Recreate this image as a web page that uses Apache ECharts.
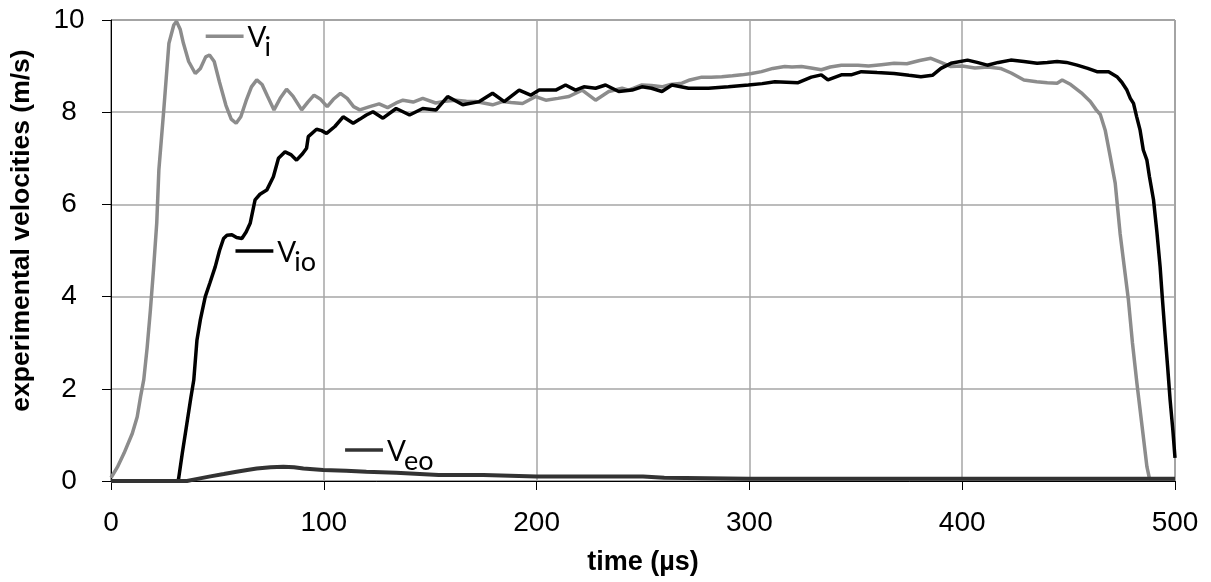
<!DOCTYPE html>
<html>
<head>
<meta charset="utf-8">
<script src="https://cdn.jsdelivr.net/npm/echarts@6/dist/echarts.min.js"></script>
<style>
html,body{margin:0;padding:0;background:#fff;}
#chart{width:1211px;height:582px;}
</style>
</head>
<body>
<div id="chart"></div>
<script>
// ---- data (time in µs, velocity in m/s) ----
var xTicks = [0, 100, 200, 300, 400, 500];
var yTicks = [0, 2, 4, 6, 8, 10];

var tVi = [0,3,6.1,10,12.3,13.9,15.4,17,18.5,20,21.5,22.5,24.8,27.2,29.5,30.8,32.5,34,36.5,39.6,42,44.5,46.3,48.5,51,54,56.5,58.8,61,63.5,66,68.5,71,73.5,76.6,79.5,82.5,85.5,89.6,92.5,95.4,98.5,101.6,104.5,107.8,111,114,116.9,121.6,126,130,134,137.2,142,146.5,152.6,157,162,167,171.3,175,179.3,184,188,193.4,199.6,204.3,210,215.2,221.4,227.7,233.9,240.2,243.3,249.5,254,258.9,263,268.3,272,277.6,282,287,292,296.4,301,305.7,311,316.6,320,324.5,329,333.8,338,343.2,347.8,351,356,362,368,374,380,385.3,390,394.7,400,406,412,418,423,429,435,440,444.6,447,451,456,460.2,463,464.9,467.2,469.6,471.9,474.2,476,478.1,480,482.1,484.5,486.8,488,500];
var vVi = [0.07,0.3,0.6,1.03,1.39,1.83,2.2,2.9,3.7,4.6,5.6,6.75,8.05,9.49,9.89,9.97,9.8,9.5,9.1,8.84,8.95,9.2,9.24,9.1,8.65,8.15,7.85,7.76,7.9,8.25,8.55,8.7,8.6,8.35,8.05,8.3,8.5,8.35,8.05,8.22,8.37,8.28,8.12,8.28,8.41,8.3,8.12,8.05,8.12,8.18,8.1,8.2,8.26,8.22,8.3,8.2,8.24,8.26,8.24,8.23,8.2,8.16,8.23,8.21,8.19,8.34,8.26,8.3,8.34,8.48,8.26,8.45,8.52,8.48,8.59,8.58,8.55,8.6,8.63,8.7,8.76,8.76,8.77,8.79,8.81,8.84,8.88,8.95,8.99,8.98,8.99,8.96,8.92,8.98,9.02,9.02,9.02,9.0,9.03,9.06,9.05,9.12,9.17,9.08,8.99,9.0,8.96,8.98,8.95,8.85,8.7,8.66,8.64,8.63,8.7,8.6,8.42,8.23,8.05,7.95,7.61,7.03,6.46,5.37,4.7,3.93,3.0,2.12,1.2,0.31,0.05,0.05];

var tVio = [0,31.5,31.8,33.5,35.5,37.5,38.9,40.4,42,44.3,46.5,49,51,52.9,54.5,56.8,59,61.5,63.5,65.4,67.7,70,73.2,76.3,78.7,81.8,84.5,87.2,90,91.9,92.7,96.6,99,101.3,105.2,109.1,113.8,117,120,123.1,127.8,134,137.2,140.3,146.5,152.8,158.2,165.3,173.1,179.3,184.8,191.8,197.2,201.2,209,213.6,218.3,222.2,227.7,232.4,238.6,244.9,249.5,254,258.9,263.6,271.4,280.8,290.1,299.5,306,312,322.9,329.1,333.8,336.9,343.2,347.8,352.6,360,368,375,380.6,386,390,394.7,402.5,407,411.8,417,422.8,429,435.2,440,444.6,449,454,459,463.3,468.8,472.7,475,477.4,479,480.5,482,483.6,485.1,486.8,488,489.9,491.5,493,494,495.3,496.5,497.7,499,500];
var vVio = [0,0,0.06,0.6,1.2,1.8,2.19,3.06,3.5,4.0,4.3,4.65,5.0,5.26,5.33,5.34,5.28,5.26,5.4,5.59,6.1,6.22,6.31,6.6,7.0,7.14,7.08,6.96,7.1,7.22,7.47,7.63,7.6,7.54,7.69,7.9,7.76,7.85,7.94,8.01,7.87,8.08,8.01,7.94,8.08,8.05,8.34,8.16,8.23,8.41,8.23,8.48,8.37,8.48,8.48,8.59,8.48,8.55,8.52,8.59,8.45,8.48,8.55,8.52,8.45,8.59,8.52,8.52,8.55,8.59,8.62,8.66,8.64,8.76,8.81,8.7,8.81,8.81,8.88,8.86,8.84,8.8,8.77,8.8,8.95,9.06,9.13,9.08,9.02,9.08,9.13,9.1,9.06,9.08,9.1,9.08,9.02,8.95,8.88,8.88,8.77,8.65,8.48,8.3,8.19,7.9,7.61,7.18,6.96,6.6,6.1,5.4,4.65,4.0,3.2,2.5,1.76,1.1,0.5];

var tVeo = [0,35.7,40,46.7,53,59,64,68.5,75,81,86,90.4,99.7,110.5,120,134,154,175,200,230,250,260,300,400,500];
var vVeo = [0,0,0.04,0.1,0.15,0.2,0.24,0.27,0.3,0.31,0.3,0.27,0.24,0.22,0.2,0.18,0.13,0.13,0.1,0.1,0.1,0.07,0.05,0.05,0.05];

// in-plot series labels (data units)
var labelSub = ['i', 'io', 'eo'];
var labelT0 = [44.5, 58.5, 110];
var labelT1 = [62.3, 76.3, 127.8];
var labelV = [9.65, 4.99, 0.67];

function pairs(t, v) { return t.map(function (x, i) { return [x, v[i]]; }); }

var colors = ['#8c8c8c', '#000000', '#333333'];
var widths = [3.5, 3.5, 4];

var chart = echarts.init(document.getElementById('chart'));
var axisFont = 'Liberation Sans, Arial, sans-serif';
chart.setOption({
  animation: false,
  grid: { left: 107, right: 36, top: 20, bottom: 101, show: true, borderColor: '#404040', borderWidth: 1 },
  xAxis: {
    type: 'value', min: xTicks[0], max: xTicks[xTicks.length - 1], interval: 100,
    name: 'time (µs)', nameLocation: 'middle', nameGap: 68,
    nameTextStyle: { fontFamily: axisFont, fontWeight: 'bold', fontSize: 27, color: '#000' },
    axisLine: { show: true, onZero: false, lineStyle: { color: '#000', width: 1 } },
    axisTick: { show: true, inside: false, length: 9, lineStyle: { color: '#000' } },
    axisLabel: { fontFamily: axisFont, fontSize: 28, color: '#000', margin: 28 },
    splitLine: { show: true, lineStyle: { color: '#a6a6a6', width: 1.5 } }
  },
  yAxis: {
    type: 'value', min: yTicks[0], max: yTicks[yTicks.length - 1], interval: 2,
    name: 'experimental velocities (m/s)', nameLocation: 'middle', nameGap: 76,
    nameTextStyle: { fontFamily: axisFont, fontWeight: 'bold', fontSize: 26.5, color: '#000', padding: [0, 0, 0, 40] },
    axisLine: { show: true, onZero: false, lineStyle: { color: '#000', width: 1 } },
    axisTick: { show: true, inside: false, length: 9, lineStyle: { color: '#000' } },
    axisLabel: { fontFamily: axisFont, fontSize: 28, color: '#000', margin: 42, align: 'center' },
    splitLine: { show: true, lineStyle: { color: '#a6a6a6', width: 1.5 } }
  },
  series: [
    { name: 'Vi', type: 'line', data: pairs(tVi, vVi), showSymbol: false, smooth: false,
      lineStyle: { color: colors[0], width: widths[0] }, z: 2 },
    { name: 'Vio', type: 'line', data: pairs(tVio, vVio), showSymbol: false, smooth: false,
      lineStyle: { color: colors[1], width: widths[1] }, z: 3 },
    { name: 'Veo', type: 'line', data: pairs(tVeo, vVeo), showSymbol: false, smooth: false,
      lineStyle: { color: colors[2], width: widths[2] }, z: 4 }
  ]
});

// series labels placed from data-unit anchors
var g = [];
var labFont = 'Lato, "Open Sans", sans-serif';
for (var i = 0; i < labelSub.length; i++) {
  var p0 = chart.convertToPixel({ gridIndex: 0 }, [labelT0[i], labelV[i]]);
  var p1 = chart.convertToPixel({ gridIndex: 0 }, [labelT1[i], labelV[i]]);
  g.push({ type: 'line', shape: { x1: p0[0], y1: p0[1], x2: p1[0], y2: p1[1] },
           style: { stroke: colors[i], lineWidth: 3.5 }, z: 10 });
  g.push({ type: 'text', x: p1[0] + 4, y: p1[1] + 2,
           style: { text: 'V', font: '28px ' + labFont, fill: '#000', textVerticalAlign: 'middle', textAlign: 'left' }, z: 10 });
  g.push({ type: 'text', x: p1[0] + 21, y: p1[1] + 11,
           style: { text: labelSub[i], font: '27px ' + labFont, fill: '#000', textVerticalAlign: 'middle', textAlign: 'left' }, z: 10 });
}
chart.setOption({ graphic: g });
</script>
</body>
</html>
